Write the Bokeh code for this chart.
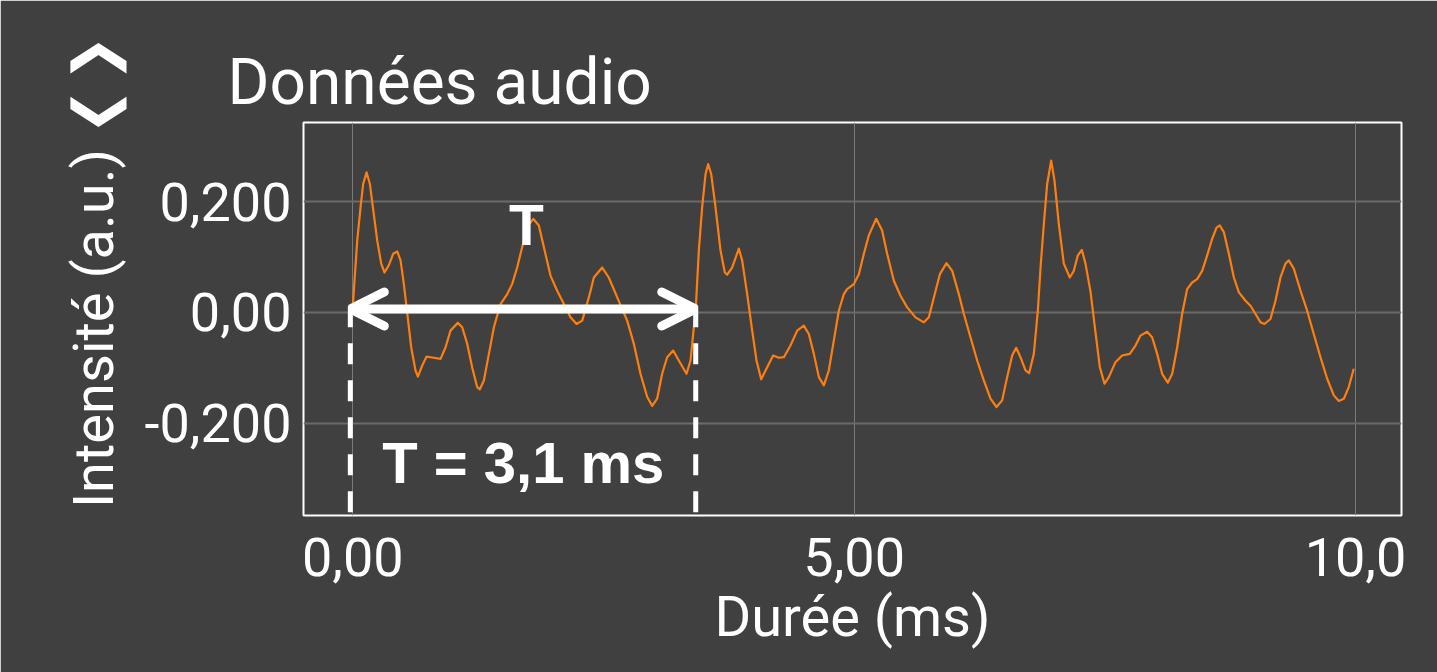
from bokeh.plotting import figure
from bokeh.models import (Range1d, FixedTicker, CustomJSTickFormatter, Label,
                          Arrow, OpenHead, ColumnDataSource)
from bokeh.embed import file_html
from bokeh.resources import INLINE

# ---- data ----
time_ms = [0.000, 0.044, 0.077, 0.103, 0.137, 0.170, 0.200, 0.243, 0.283, 0.316,
           0.359, 0.403, 0.443, 0.476, 0.509, 0.542, 0.582, 0.625, 0.649, 0.692,
           0.735, 0.808, 0.875, 0.925, 0.974, 1.047, 1.091, 1.141, 1.190, 1.240,
           1.267, 1.307, 1.357, 1.407, 1.473, 1.540, 1.589, 1.639, 1.689, 1.739,
           1.799, 1.855, 1.905, 1.972, 2.038, 2.105, 2.171, 2.231, 2.288, 2.354,
           2.404, 2.487, 2.553, 2.637, 2.736, 2.803, 2.869, 2.936, 2.986, 3.035,
           3.085, 3.135, 3.195, 3.251, 3.328, 3.368, 3.401, 3.421, 3.451, 3.484,
           3.518, 3.544, 3.574, 3.617, 3.667, 3.710, 3.734, 3.783, 3.850, 3.883,
           3.933, 3.983, 4.026, 4.073, 4.116, 4.192, 4.249, 4.299, 4.365, 4.432,
           4.498, 4.548, 4.598, 4.648, 4.698, 4.747, 4.797, 4.847, 4.897, 4.930,
           4.997, 5.047, 5.097, 5.146, 5.220, 5.279, 5.329, 5.396, 5.462, 5.529,
           5.612, 5.695, 5.745, 5.795, 5.855, 5.921, 5.978, 6.044, 6.094, 6.160,
           6.227, 6.293, 6.360, 6.420, 6.476, 6.526, 6.576, 6.616, 6.659, 6.709,
           6.745, 6.792, 6.832, 6.859, 6.892, 6.925, 6.965, 6.998, 7.041, 7.091,
           7.151, 7.191, 7.231, 7.271, 7.307, 7.357, 7.407, 7.450, 7.497, 7.540,
           7.606, 7.673, 7.749, 7.806, 7.856, 7.922, 7.972, 8.022, 8.072, 8.128,
           8.172, 8.222, 8.271, 8.321, 8.371, 8.421, 8.471, 8.521, 8.571, 8.614,
           8.647, 8.687, 8.737, 8.787, 8.837, 8.903, 8.953, 9.003, 9.053, 9.092,
           9.152, 9.202, 9.252, 9.302, 9.335, 9.385, 9.452, 9.518, 9.584, 9.651,
           9.718, 9.784, 9.834, 9.884, 9.933, 9.983]
intensity = [0.012, 0.130, 0.190, 0.232, 0.253, 0.232, 0.190, 0.130, 0.088, 0.072,
             0.085, 0.106, 0.110, 0.094, 0.051, 0.000, -0.063, -0.105, -0.116, -0.096,
             -0.080, -0.082, -0.084, -0.063, -0.033, -0.019, -0.027, -0.057, -0.099, -0.135,
             -0.139, -0.123, -0.075, -0.027, 0.015, 0.033, 0.051, 0.081, 0.118, 0.154,
             0.169, 0.157, 0.118, 0.066, 0.039, 0.015, -0.009, -0.021, -0.015, 0.027,
             0.063, 0.081, 0.063, 0.027, -0.015, -0.057, -0.111, -0.153, -0.169, -0.156,
             -0.111, -0.081, -0.069, -0.087, -0.111, -0.087, -0.027, 0.009, 0.112, 0.190,
             0.250, 0.268, 0.250, 0.190, 0.112, 0.072, 0.068, 0.081, 0.115, 0.094,
             0.033, -0.033, -0.087, -0.121, -0.105, -0.078, -0.082, -0.081, -0.060, -0.033,
             -0.024, -0.039, -0.075, -0.117, -0.132, -0.105, -0.051, 0.003, 0.033, 0.042,
             0.051, 0.069, 0.106, 0.139, 0.169, 0.148, 0.106, 0.057, 0.030, 0.009,
             -0.009, -0.018, -0.009, 0.027, 0.069, 0.089, 0.075, 0.033, -0.003, -0.045,
             -0.087, -0.123, -0.156, -0.171, -0.159, -0.117, -0.078, -0.064, -0.081, -0.105,
             -0.110, -0.075, 0.003, 0.081, 0.160, 0.232, 0.274, 0.238, 0.160, 0.088,
             0.063, 0.075, 0.103, 0.113, 0.088, 0.038, -0.036, -0.099, -0.129, -0.117,
             -0.090, -0.078, -0.075, -0.060, -0.042, -0.035, -0.045, -0.075, -0.111, -0.127,
             -0.111, -0.063, -0.003, 0.042, 0.054, 0.060, 0.075, 0.103, 0.133, 0.153,
             0.157, 0.145, 0.106, 0.063, 0.036, 0.021, 0.012, -0.003, -0.018, -0.021,
             -0.012, 0.021, 0.063, 0.088, 0.094, 0.079, 0.039, 0.003, -0.039, -0.081,
             -0.120, -0.150, -0.160, -0.156, -0.135, -0.102]

x_ticks = [0, 5, 10]
y_ticks = [-0.2, 0, 0.2]

period_start = -0.025   # ms
period_end = 3.42       # ms
period_text = "T = 3,1 ms"

title_text = "Données audio"
x_label = "Durée (ms)"
y_label = "\u2007\u2007\u2007Intensité (a.u.) \u276E\u200A\u276F"

BG = "#404040"

p = figure(width=1437, height=672, output_backend="svg", toolbar_location=None,
           x_range=Range1d(-0.492, 10.459), y_range=Range1d(-0.367, 0.343),
           min_border_left=303, min_border_right=36,
           min_border_top=122, min_border_bottom=157)
p.background_fill_color = BG
p.border_fill_color = BG
p.outline_line_color = "white"
p.outline_line_width = 2

p.title.text = title_text
p.title.text_color = "white"
p.title.text_font = "Roboto"
p.title.text_font_size = "64px"
p.title.text_font_style = "normal"
p.title.align = "left"
p.title.offset = -76
p.title.standoff = 6

for ax in (p.xaxis[0], p.yaxis[0]):
    ax.axis_line_color = None
    ax.major_tick_line_color = None
    ax.minor_tick_line_color = None
    ax.major_tick_out = 0
    ax.major_tick_in = 0
    ax.major_label_text_color = "white"
    ax.major_label_text_font = "Roboto"
    ax.major_label_text_font_size = "54px"
    ax.axis_label_text_color = "white"
    ax.axis_label_text_font = "Roboto"
    ax.axis_label_text_font_size = "56px"
    ax.axis_label_text_font_style = "normal"
    ax.formatter = CustomJSTickFormatter(
        code="return tick.toPrecision(3).replace('.', ',');")

p.xaxis.ticker = FixedTicker(ticks=x_ticks)
p.yaxis.ticker = FixedTicker(ticks=y_ticks)
p.xaxis.axis_label = x_label
p.yaxis.axis_label = y_label
p.xaxis.major_label_standoff = 22
p.xaxis.axis_label_standoff = 5
p.yaxis.major_label_standoff = 12
p.yaxis.axis_label_standoff = 15

p.xgrid.grid_line_color = "#7a7a7a"
p.xgrid.grid_line_width = 1
p.ygrid.grid_line_color = "#6a6a6a"
p.ygrid.grid_line_width = 2

src = ColumnDataSource(data=dict(t=time_ms, a=intensity))
p.line("t", "a", source=src, line_color="#ff7f0e", line_width=2.2,
       line_join="round")

# dashed period markers
p.segment(x0=[period_start, period_end], y0=[0.011, 0.011],
          x1=[period_start, period_end], y1=[-0.45, -0.45],
          line_color="white", line_width=5, line_dash="21 16")

# double-headed arrow
head_kw = dict(size=34, line_color="white", line_width=9, line_cap="round")
p.add_layout(Arrow(x_start=period_start, y_start=0.006, x_end=period_end, y_end=0.006,
                   start=OpenHead(**head_kw), end=OpenHead(**head_kw),
                   line_color="white", line_width=9))

p.add_layout(Label(x=1.73, y=0.158, text="T", text_color="white",
                   text_font="Liberation Sans", text_font_style="bold",
                   text_font_size="57px", text_align="center",
                   text_baseline="alphabetic"))
p.add_layout(Label(x=1.70, y=-0.272, text=period_text, text_color="white",
                   text_font="Liberation Sans", text_font_style="bold",
                   text_font_size="58px", text_align="center",
                   text_baseline="alphabetic"))

open("out.html", "w").write(file_html(p, INLINE))
